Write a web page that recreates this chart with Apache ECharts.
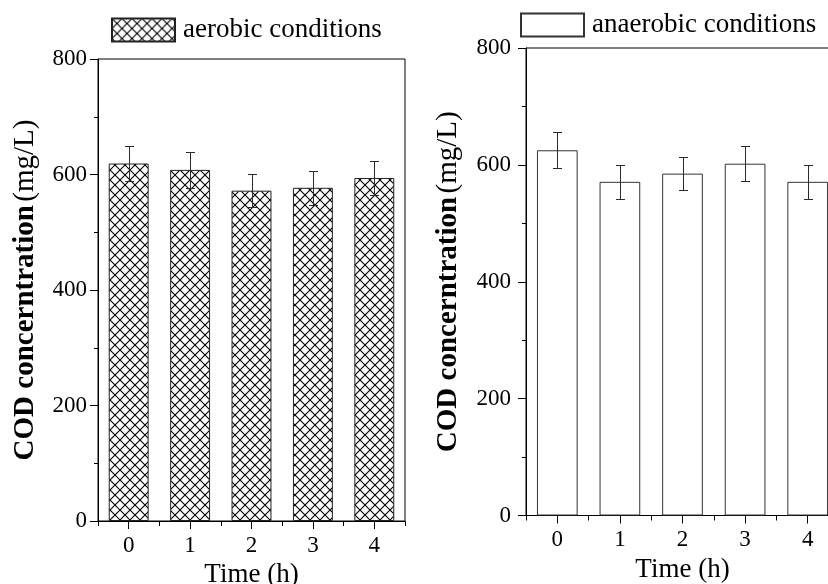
<!DOCTYPE html>
<html>
<head>
<meta charset="utf-8">
<script src="https://cdn.jsdelivr.net/npm/echarts@6/dist/echarts.min.js"></script>
<style>
  html, body { margin: 0; padding: 0; background: #fff; }
  #chart { width: 828px; height: 584px; }
</style>
</head>
<body>
<div id="chart"></div>
<script>
// Sampling times (h)
const timeLabels = ['0', '1', '2', '3', '4'];

// COD concentration (mg/L): mean and standard deviation per sampling time
const aerobicMean = [619, 608, 572, 577, 594];
const aerobicErr = [31, 31, 29, 29, 29];
const anaerobicMean = [625, 571, 585, 602, 571];
const anaerobicErr = [31, 29, 28, 30, 29];

// y-axis range and step
const yMin = 0;
const yMax = 800;
const yStep = 200;

const FONT = '"Liberation Serif", "Times New Roman", serif';

// Cross-hatch fill tile for the aerobic bars
function crossHatch(size) {
  const c = document.createElement('canvas');
  c.width = c.height = size;
  const g = c.getContext('2d');
  g.fillStyle = '#fff';
  g.fillRect(0, 0, size, size);
  g.strokeStyle = '#000';
  g.lineWidth = 1.1;
  g.beginPath();
  g.moveTo(-1, -1); g.lineTo(size + 1, size + 1);
  g.moveTo(size + 1, -1); g.lineTo(-1, size + 1);
  g.stroke();
  return c;
}

// Error bars with caps at mean ± sd
function errorSeries(name, means, errs, xIdx, yIdx) {
  return {
    name: name,
    type: 'custom',
    xAxisIndex: xIdx,
    yAxisIndex: yIdx,
    z: 5,
    silent: true,
    data: means.map((m, i) => [i, m - errs[i], m + errs[i]]),
    renderItem(params, api) {
      const lo = api.coord([api.value(0), api.value(1)]);
      const hi = api.coord([api.value(0), api.value(2)]);
      const x = Math.round(lo[0]) + 0.5;
      const y1 = Math.round(hi[1]) + 0.5;
      const y2 = Math.round(lo[1]) + 0.5;
      const cap = 4.5;
      const style = { stroke: '#2a2a2a', lineWidth: 1, fill: null };
      return {
        type: 'group',
        children: [
          { type: 'line', shape: { x1: x, y1: y1, x2: x, y2: y2 }, style },
          { type: 'line', shape: { x1: x - cap, y1: y1, x2: x + cap, y2: y1 }, style },
          { type: 'line', shape: { x1: x - cap, y1: y2, x2: x + cap, y2: y2 }, style }
        ]
      };
    }
  };
}

function mainXAxis(gridIndex, nameGap) {
  return {
    type: 'category',
    gridIndex,
    position: 'bottom',
    data: timeLabels,
    axisLine: { show: true, lineStyle: { color: '#000', width: 1 } },
    axisTick: { show: true, alignWithLabel: true, length: 8, lineStyle: { color: '#000' } },
    axisLabel: { fontFamily: FONT, fontSize: 23, color: '#000', margin: 13 },
    name: 'Time (h)',
    nameLocation: 'middle',
    nameGap: nameGap,
    nameTextStyle: { fontFamily: FONT, fontSize: 27, color: '#000' }
  };
}

// Second category axis carrying only the short ticks between categories
function minorXAxis(gridIndex) {
  return {
    type: 'category',
    gridIndex,
    position: 'bottom',
    data: timeLabels,
    axisLine: { show: false },
    axisTick: { show: true, alignWithLabel: false, length: 5, lineStyle: { color: '#000' } },
    axisLabel: { show: false }
  };
}

function yAxis(gridIndex, labelMargin, nameGap) {
  return {
    type: 'value',
    gridIndex,
    min: yMin,
    max: yMax,
    interval: yStep,
    axisLine: { show: true, lineStyle: { color: '#000', width: 1 } },
    axisTick: { show: true, length: 8, lineStyle: { color: '#000' } },
    minorTick: { show: true, splitNumber: 2, length: 4, lineStyle: { color: '#000' } },
    splitLine: { show: false },
    axisLabel: { fontFamily: FONT, fontSize: 23, color: '#000', margin: labelMargin },
    name: '{b|COD concerntration} {n|(mg/L)}',
    nameLocation: 'middle',
    nameRotate: 90,
    nameGap: nameGap,
    nameTextStyle: {
      color: '#000',
      rich: {
        b: { fontFamily: FONT, fontSize: 29, fontWeight: 'bold', color: '#000' },
        n: { fontFamily: FONT, fontSize: 29, color: '#000' }
      }
    }
  };
}

const legendBase = {
  icon: 'rect',
  itemWidth: 63,
  itemHeight: 23,
  padding: 0,
  selectedMode: false,
  textStyle: { fontFamily: FONT, fontSize: 27, color: '#000', padding: [0, 0, 0, 3] }
};

const chart = echarts.init(document.getElementById('chart'), null, { renderer: 'canvas' });

chart.setOption({
  backgroundColor: '#fff',
  animation: false,
  legend: [
    Object.assign({}, legendBase, { data: ['aerobic conditions'], left: 111, top: 16.5 }),
    Object.assign({}, legendBase, { data: ['anaerobic conditions'], left: 520, top: 11.5 })
  ],
  grid: [
    { left: 98, top: 59, width: 307, height: 462, outerBoundsMode: 'none',
      show: true, borderColor: '#000', borderWidth: 1 },
    { left: 526, top: 48, width: 313, height: 467.5, outerBoundsMode: 'none',
      show: true, borderColor: '#000', borderWidth: 1 }
  ],
  xAxis: [mainXAxis(0, 31), minorXAxis(0), mainXAxis(1, 35), minorXAxis(1)],
  yAxis: [yAxis(0, 11, 58), yAxis(1, 15, 63)],
  series: [
    {
      name: 'aerobic conditions',
      type: 'bar',
      xAxisIndex: 0,
      yAxisIndex: 0,
      data: aerobicMean,
      barWidth: '65%',
      itemStyle: {
        color: { image: crossHatch(10), repeat: 'repeat' },
        borderColor: '#222',
        borderWidth: 1
      }
    },
    errorSeries('aerobic sd', aerobicMean, aerobicErr, 0, 0),
    {
      name: 'anaerobic conditions',
      type: 'bar',
      xAxisIndex: 2,
      yAxisIndex: 1,
      data: anaerobicMean,
      barWidth: '65%',
      itemStyle: { color: '#fff', borderColor: '#333', borderWidth: 1 }
    },
    errorSeries('anaerobic sd', anaerobicMean, anaerobicErr, 2, 1)
  ]
});
</script>
</body>
</html>
